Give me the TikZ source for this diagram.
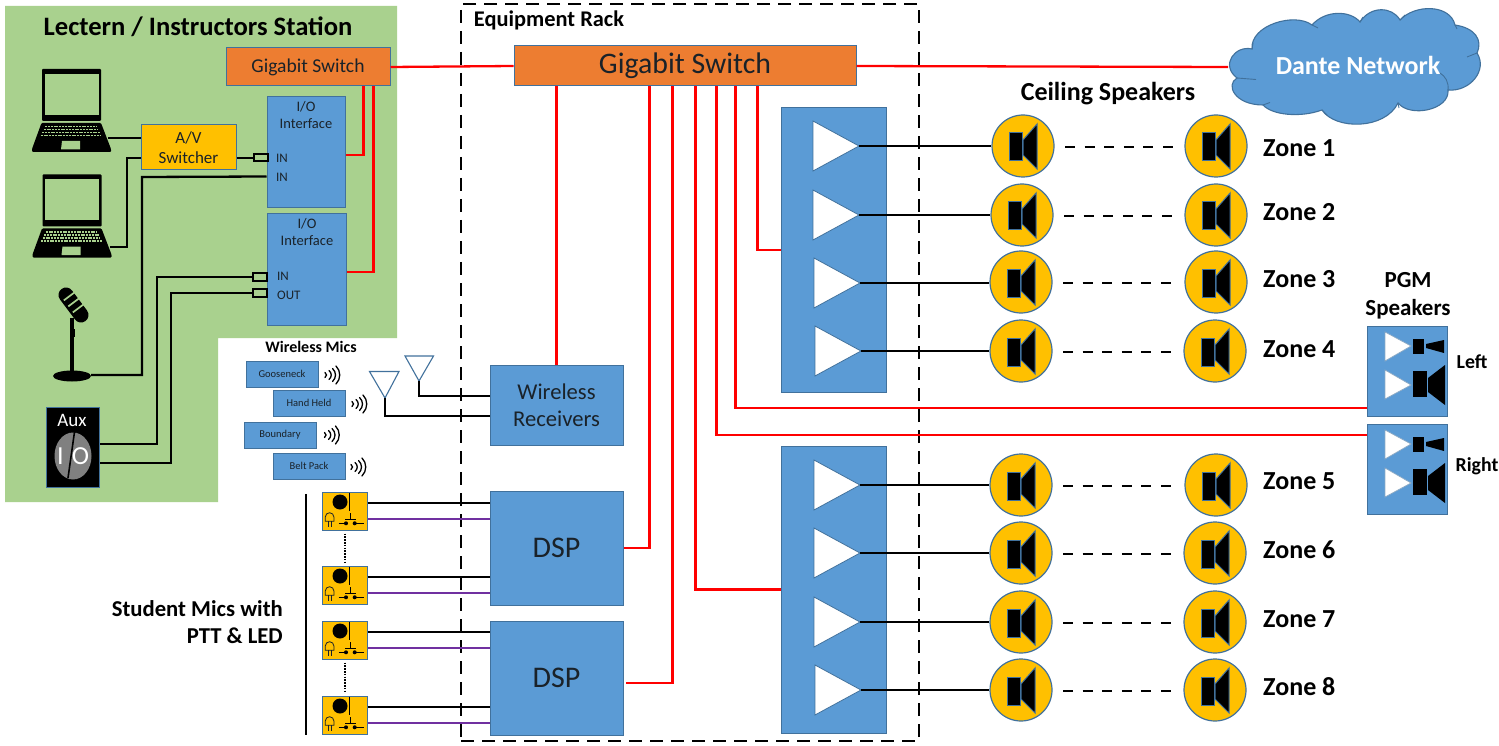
\documentclass[tikz,border=0pt]{standalone}
\usepackage{fontspec}
\setmainfont{Carlito}
\usetikzlibrary{calc}
\definecolor{gbg}{HTML}{A9D18E}
\definecolor{bfill}{HTML}{5B9BD5}
\definecolor{bline}{HTML}{41719C}
\definecolor{orng}{HTML}{ED7D31}
\definecolor{gold}{HTML}{FFC000}
\definecolor{purp}{HTML}{7030A0}
\definecolor{txt}{HTML}{1A2229}
\newcommand{\fs}[1]{\fontsize{#1}{#1}\selectfont}
\tikzset{
  bluebox/.style={draw=bline,fill=bfill,line width=1pt,inner sep=0pt,text=txt,align=center},
  orangebox/.style={bluebox,fill=orng},
  goldbox/.style={bluebox,fill=gold},
  blackbox/.style={bluebox,fill=black},
  redl/.style={draw=red,line width=2.3pt},
  blk/.style={draw=black,line width=2.3pt},
  purl/.style={draw=purp,line width=2.3pt},
  title/.style={font=\bfseries,text=black,inner sep=0pt,align=center},
  lab/.style={inner sep=0pt,text=txt,anchor=west,font=\fs{13}},
  spkc/.style={circle,draw=bline,fill=gold,line width=1.2pt,minimum size=62pt,inner sep=0pt},
  tri/.style={fill=white,draw=bline,line width=.8pt},
  sicon/.style={fill=black,draw=bline,line width=1pt},
}
\newcommand{\bx}[6]{\node[#1,minimum width={(#5-#3)*1pt},minimum height={(#6-#4)*1pt}] (#2) at ({(#3+#5)/2},{(#4+#6)/2}) }
\newcommand{\amptri}[3]{%
  \draw[tri] (#2,#3-25)--(#2,#3+25)--(#2+46,#3)--cycle;
  \coordinate (#1) at (#2+46,#3);}
\newcommand{\spk}[3]{%
  \node[spkc] (#1) at (#2,#3) {};
  \begin{scope}[shift={(#2,#3)}]
    \draw[sicon] (-14,-13) rectangle (-1,15);
    \draw[sicon] (0,-6)--(14,-22)--(14,23)--(0,9)--cycle;
  \end{scope}}
\newcommand{\laptop}[2]{%
  \begin{scope}[shift={(#1,#2)}]
    \fill[black,rounded corners=1pt] (42,69) rectangle (101,121);
    \fill[gbg] (44.5,74) rectangle (98.5,115);
    \fill[black,rounded corners=1pt] (41.5,123)--(101,123)--(111,149)--(111,152)--(32,152)--(32,149)--cycle;
    \foreach \yy in {126.5,129.5,132.5,135.5}
      \draw[gbg,line width=1.2pt,dash pattern=on 2pt off .8pt] (108.5-\yy/2,\yy)--(33.5+\yy/2,\yy);
    \fill[gbg] (62,141)--(80,141)--(80,149.5)--(61,149.5)--cycle;
  \end{scope}}
\newcommand{\wv}[2]{%
  \begin{scope}[shift={(#1,#2)},line width=1.3pt,line cap=round]
    \draw (0,-2.5) .. controls (2,-1) and (2,1) .. (0,2.5);
    \draw (4,-4.5) .. controls (7,-2) and (7,2) .. (4,4.5);
    \draw (7.5,-6.5) .. controls (11.5,-3) and (11.5,3) .. (7.5,6.5);
    \draw (11,-9) .. controls (16,-4) and (16,4) .. (11,9);
  \end{scope}}
\newcommand{\stud}[3]{%
  \bx{goldbox}{#1}{322}{#2}{367}{#3}{};
  \begin{scope}[shift={(322,#2)}]
    \fill[black] (18,10) circle (7.5);
    \draw[black,line width=1pt] (27,0.5)--(27,19);
    \draw[txt,line width=.8pt] (3.3,29.3)--(3.3,25) arc[start angle=180,end angle=360,radius=4.3] --(11.9,29.3)--cycle;
    \draw[txt,line width=.6pt] (6,29.3)--(6,34.5) (9.2,29.3)--(9.2,34.5);
    \draw[black,line width=1pt] (28.7,21)--(28.7,27) (23,27)--(34.3,27) (16.7,31.3)--(24,31.3) (32.7,31.3)--(41.7,31.3);
    \fill[black] (24,31.3) circle (2) (32.7,31.3) circle (2);
  \end{scope}}
\begin{document}
\begin{tikzpicture}[x=1pt,y=-1pt]
\useasboundingbox (0,0) rectangle (1499,746);
\fill[white] (0,0) rectangle (1499,746);
% green station area
\fill[gbg] (5,6)--(397,6)--(397,338)--(218,338)--(218,502)--(5,502)--cycle;
\node[title,font=\bfseries\fs{26.6}] (lectitle) at (198,27) {Lectern / Instructors Station};
% equipment rack
\node[draw=black,line width=2.8pt,dash pattern=on 13pt off 8pt,minimum width=458pt,minimum height=737pt,inner sep=0pt] (rack) at (690,372.5) {};
\node[title,font=\bfseries\fs{22.4}] (racktitle) at (549,20) {Equipment Rack};
% switches
\bx{orangebox,font=\fs{19.6}}{lsw}{226}{48}{390}{86}{\raisebox{-2pt}{Gigabit Switch}};
\bx{orangebox,font=\fs{29.8}}{msw}{514}{46}{856}{86}{\raisebox{-3pt}{Gigabit Switch}};
% IO
\bx{bluebox}{io1}{267}{97}{345}{208}{};
\bx{bluebox}{io2}{267}{214}{346}{325}{};
\node[inner sep=0pt,text=txt,align=center,font=\fontsize{14.5}{17}\selectfont] (io1t) at (306,115) {I/O\\Interface};
\node[inner sep=0pt,text=txt,align=center,font=\fontsize{14.5}{17}\selectfont] (io2t) at (307,232) {I/O\\Interface};
\node[lab] (i1a) at (276,158) {IN};
\node[lab] (i1b) at (276,177) {IN};
\node[lab] (i2a) at (277,276) {IN};
\node[lab] (i2b) at (277,295) {OUT};
\bx{goldbox,font=\fontsize{17}{20}\selectfont}{avs}{141}{125}{236}{170}{A/V\\Switcher};
% laptops
\laptop{0}{0}\coordinate (lap1) at (108,138);
\laptop{0.5}{105.5}\coordinate (lap2) at (110,247);
% microphone
\begin{scope}
  \draw[black,line width=15pt,line cap=round] (66,295)--(81,315);
  \foreach \t in {0.12,0.42,0.72}
    \draw[gbg,line width=1.7pt] ($(66,295)!\t!(81,315)+(-4,3)$)--($(66,295)!\t!(81,315)+(10,-7.5)$);
  \draw[black,line width=3.8pt] (72,318)--(72,372);
  \fill[black] (69.5,329) rectangle (75,337);
  \fill[black] (72,376) ellipse (19 and 5.5);
\end{scope}
\coordinate (mic) at (91,375);
% Aux
\bx{blackbox}{aux}{46}{407}{99}{487}{};
\fill[gray] (73,456) ellipse (18.5 and 23.5);
\node[inner sep=0pt,text=white,font=\fs{19}] (auxt) at (72,420) {Aux};
\node[inner sep=0pt,text=white,font=\fs{26}] (auxI) at (60.5,456) {I};
\node[inner sep=0pt,text=white,font=\fs{26}] (auxO) at (80.5,456) {O};
\draw[black,line width=1.6pt] (74.5,432)--(68,478);
% wireless mics
\node[title,font=\bfseries\fs{16}] (wmt) at (311,347) {Wireless Mics};
\bx{bluebox,font=\fs{10.5}}{gn}{246}{361}{318}{387}{Gooseneck};
\bx{bluebox,font=\fs{10.5}}{hh}{273}{390}{345}{416}{Hand Held};
\bx{bluebox,font=\fs{10.5}}{bd}{244}{422}{316}{448}{Boundary};
\bx{bluebox,font=\fs{10.5}}{bp}{273}{453}{345}{479}{Belt Pack};
\wv{325}{375}\wv{352}{404}\wv{324.5}{435}\wv{351}{467}
% antennas
\draw[bline,line width=1.1pt,fill=white] (369.5,371.5)--(399,371.5)--(385,398)--cycle;
\draw[bline,line width=1.1pt,fill=white] (405,356)--(433.5,356)--(419,381)--cycle;
\coordinate (ant1) at (385,398);
\coordinate (ant2) at (419,381);
% rack boxes
\bx{bluebox,font=\fontsize{22.6}{27}\selectfont}{rx}{490}{365}{623}{445}{Wireless\\Receivers};
\bx{bluebox,font=\fs{30}}{dsp1}{490}{491}{623}{605}{\raisebox{-2pt}{DSP}};
\bx{bluebox,font=\fs{30}}{dsp2}{490}{621}{623}{735}{\raisebox{-2pt}{DSP}};
\bx{bluebox}{amp1}{781}{108}{886}{392}{};
\bx{bluebox}{amp2}{781}{446}{886}{733}{};
\amptri{a1}{813}{146}\amptri{a2}{813}{215}\amptri{a3}{814}{283}\amptri{a4}{815}{351}
\amptri{a5}{814}{485}\amptri{a6}{814}{553}\amptri{a7}{814}{622}\amptri{a8}{815}{690}
% speakers
\node[title,font=\bfseries\fs{26}] (cst) at (1108,94) {Ceiling Speakers};
\spk{l1}{1023}{146}\spk{r1}{1216}{146}
\spk{l2}{1022}{215}\spk{r2}{1216}{215}
\spk{l3}{1021}{282}\spk{r3}{1216}{282}
\spk{l4}{1021}{351}\spk{r4}{1215}{351}
\spk{l5}{1021}{485}\spk{r5}{1216}{485}
\spk{l6}{1021}{553}\spk{r6}{1215}{553}
\spk{l7}{1021}{622}\spk{r7}{1215}{622}
\spk{l8}{1021}{690}\spk{r8}{1215}{690}
\foreach \n/\yy in {1/148,2/212,3/279,4/349,5/481,6/550,7/619,8/687}
  \node[title,anchor=west,font=\bfseries\fs{26}] (z\n) at (1263,\yy) {Zone \n};
\foreach \n in {1,...,8}{
  \draw[blk] (a\n) -- (a\n -| l\n.west);
  \draw[black,line width=1.6pt,dash pattern=on 10pt off 9.6pt,shorten <=11pt,shorten >=12pt] (l\n) ++(31,1) -- ($(r\n)+(-31,1)$);
}
% PGM
\node[title,font=\bfseries\fontsize{23}{28}\selectfont] (pgmt) at (1408,296) {PGM\\Speakers};
\bx{bluebox}{pl}{1367}{326}{1447}{416}{};
\bx{bluebox}{pr}{1367}{424}{1447}{514}{};
\foreach \dy in {0,98}{
  \begin{scope}[yshift=-\dy pt]
    \draw[fill=white,draw=bline!60!white,line width=.7pt] (1385,332)--(1385,361)--(1411,346)--cycle;
    \draw[fill=white,draw=bline!60!white,line width=.7pt] (1385,370)--(1385,399)--(1411,385)--cycle;
    \fill[black] (1413,339) rectangle (1424,354);
    \fill[black] (1426,344)--(1444,340)--(1444,353)--(1426,348)--cycle;
    \fill[black] (1413,371) rectangle (1427,397);
    \fill[black] (1428,378)--(1445,365)--(1445,405)--(1428,392)--cycle;
  \end{scope}}
\node[title,font=\bfseries\fs{19.8}] (pl2) at (1472,362) {Left};
\node[title,font=\bfseries\fs{19.8}] (pr2) at (1477,466) {Right};
% cloud
\draw[bline,fill=bfill,line width=1.1pt] (1252,49)
  .. controls (1250,25) and (1295,12) .. (1312,25)
  .. controls (1325,10) and (1350,10) .. (1360,22)
  .. controls (1370,6) and (1392,6) .. (1400,20)
  .. controls (1415,4) and (1450,4) .. (1455,25)
  .. controls (1475,28) and (1483,40) .. (1477,53)
  .. controls (1488,70) and (1470,92) .. (1448,90)
  .. controls (1450,110) and (1410,118) .. (1398,103)
  .. controls (1385,130) and (1335,130) .. (1322,110)
  .. controls (1300,118) and (1272,115) .. (1263,105)
  .. controls (1235,105) and (1225,85) .. (1237,78)
  .. controls (1220,65) and (1235,45) .. (1252,49) -- cycle;
\draw[bline,line width=.9pt] (1237,78)--(1256,79.5) (1263,105)--(1270,102.5) (1322,110)--(1327,115)
  (1398,103)--(1399,108) (1448,90) .. controls (1449,82) and (1445,76) .. (1440,73)
  (1477,53)--(1467,57) (1455,25)--(1457,29) (1400,20)--(1405,15) (1360,22)--(1363,17) (1312,25)--(1318,28) (1252,49)--(1253,43);
\coordinate (cloudw) at (1228,67);
\node[inner sep=0pt,text=white,font=\bfseries\fs{26}] (cloudt) at (1358,65.5) {Dante Network};
% student mics
\node[title,anchor=east,font=\bfseries\fontsize{22.7}{27}\selectfont,align=right] (smt) at (283,622) {Student Mics with\\PTT \& LED};
\node[inner sep=0pt,minimum width=0pt,minimum height=241pt] (smbar) at (306,614.5) {};
\draw[black,line width=2.2pt] (smbar.north) -- (smbar.south);
\stud{sm1}{492}{530}\stud{sm2}{566}{604}\stud{sm3}{621}{659}\stud{sm4}{696}{734}
\foreach \s/\d in {sm1/dsp1,sm2/dsp1,sm3/dsp2,sm4/dsp2}{
  \draw[blk] ([yshift=8pt]\s.east) -- ([yshift=8pt]\s.east -| \d.west);
  \draw[purl] ([yshift=-8pt]\s.east) -- ([yshift=-8pt]\s.east -| \d.west);
}
\draw[black,line width=2pt,dash pattern=on 1.6pt off 1.2pt,shorten <=3pt,shorten >=3pt] (sm1.south) -- (sm2.north);
\draw[black,line width=2pt,dash pattern=on 1.6pt off 1.2pt,shorten <=3pt,shorten >=3pt] (sm3.south) -- (sm4.north);
% black connectors
\draw[blk] (lap1) -- (lap1 -| avs.west);
\draw[blk] (lap2) -| (127,158) -- ([yshift=-10.5pt]avs.west);
\draw[blk] ([yshift=-10.5pt]avs.east) -- +(17,0) coordinate (c1);
\draw[blk,line width=2pt] (c1) ++(0,-3.5) rectangle ++(14,7);
\draw[blk] ($(io1.north west)+(0,80)$) -- (142,177) |- (mic);
\draw[blk,line width=2pt] (253,273) rectangle (267,281);
\draw[blk,line width=2pt] (253,289) rectangle (267,297);
\draw[blk] (253,277) -- (157,277) |- ([yshift=3pt]aux.east);
\draw[blk] (253,293) -- (171,293) |- ([yshift=-16pt]aux.east);
\draw[blk] (ant2) |- (rx.west |- 0,396);
\draw[blk] (ant1) |- (rx.west |- 0,416);
% red connectors
\draw[redl] (lsw.east) -- (msw.west);
\draw[redl] (msw.east) -- (cloudw);
\draw[redl] ([xshift=138pt]lsw.south west) |- (io1.east |- 0,155);
\draw[redl] ([xshift=148pt]lsw.south west) |- (io2.east |- 0,272);
\draw[redl] (msw.south -| rx.north) -- (rx.north);
\draw[redl] ([xshift=136pt]msw.south west) |- (dsp1.east);
\draw[redl] ([xshift=159pt]msw.south west) |- ([yshift=-5pt,xshift=2pt]dsp2.east);
\draw[redl] ([xshift=182pt]msw.south west) |- (amp2.west);
\draw[redl] ([xshift=203pt]msw.south west) |- ([yshift=34pt]pr.west);
\draw[redl] ([xshift=222pt]msw.south west) |- ([yshift=-37pt]pl.west);
\draw[redl] ([xshift=244pt]msw.south west) |- (amp1.west);
\end{tikzpicture}
\end{document}
